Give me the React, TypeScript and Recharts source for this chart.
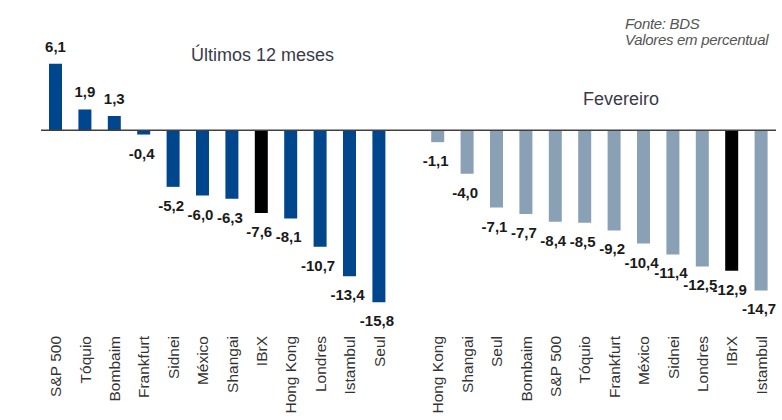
import React from 'react';
import { BarChart, Bar, XAxis, YAxis, ReferenceLine, Cell, LabelList } from 'recharts';

// Últimos 12 meses
const cidades12m = ['S&P 500', 'Tóquio', 'Bombaim', 'Frankfurt', 'Sidnei', 'México', 'Shangai', 'IBrX', 'Hong Kong', 'Londres', 'Istambul', 'Seul'];
const valores12m = [6.1, 1.9, 1.3, -0.4, -5.2, -6.0, -6.3, -7.6, -8.1, -10.7, -13.4, -15.8];

// Fevereiro
const cidadesFev = ['Hong Kong', 'Shangai', 'Seul', 'Bombaim', 'S&P 500', 'Tóquio', 'Frankfurt', 'México', 'Sidnei', 'Londres', 'IBrX', 'Istambul'];
const valoresFev = [-1.1, -4.0, -7.1, -7.7, -8.4, -8.5, -9.2, -10.4, -11.4, -12.5, -12.9, -14.7];

const AZUL = '#00468c';
const CINZA = '#8aa0b5';
const PRETO = '#000000';
const FONTE = '"Liberation Sans", Arial, sans-serif';

// one empty slot between the two groups
const dados = [
  ...cidades12m.map((nome, i) => ({ id: `a${i}`, nome, valor: valores12m[i], grupo: 'a' })),
  { id: 'sep', nome: '', valor: null as number | null, grupo: '' },
  ...cidadesFev.map((nome, i) => ({ id: `b${i}`, nome, valor: valoresFev[i], grupo: 'b' })),
];

const nomePorId: Record<string, string> = Object.fromEntries(dados.map((d) => [d.id, d.nome]));

const corDa = (d: { nome: string; grupo: string }) => {
  if (d.nome === 'IBrX') return PRETO;
  return d.grupo === 'a' ? AZUL : CINZA;
};

const Rotulo = ({ x, y, payload }: any) => (
  <g transform={`translate(${x},${y + 26})`}>
    <text transform="rotate(-90)" textAnchor="end" dy="0.35em" fontSize={15.5} fill="#333" fontFamily={FONTE}>
      {nomePorId[payload.value]}
    </text>
  </g>
);

const Valor = (props: any) => {
  const { x, y, width, height, value } = props;
  if (value == null) return null;
  const topo = Math.min(y, y + height);
  const base = Math.max(y, y + height);
  const cx = x + width / 2;
  const txt = Number(value).toFixed(1).replace('.', ',');
  const estilo = { fontSize: 15, fontWeight: 700, fill: '#1a1a1a', fontFamily: FONTE };
  if (value >= 0) {
    return <text x={cx} y={topo - 12} textAnchor="middle" {...estilo}>{txt}</text>;
  }
  return <text x={cx - 2} y={base + 24} textAnchor="middle" {...estilo}>{txt}</text>;
};

export default function App() {
  return (
    <div style={{ position: 'absolute', left: 0, top: 0, width: 782, height: 420, background: '#fff', fontFamily: FONTE }}>
      <BarChart width={782} height={420} data={dados} margin={{ top: 43, right: 6, left: 41, bottom: 10 }}>
        <XAxis dataKey="id" interval={0} axisLine={false} tickLine={false} tickSize={0} tickMargin={0} height={100} tick={<Rotulo />} padding={{ left: 0, right: 0 }} />
        <YAxis hide domain={[-16.5, 8]} />
        <Bar dataKey="valor" barSize={13} isAnimationActive={false}>
          {dados.map((d) => (
            <Cell key={d.id} fill={corDa(d)} />
          ))}
          <LabelList dataKey="valor" content={Valor} />
        </Bar>
        <ReferenceLine y={0} stroke="#404040" strokeWidth={1.5} />
      </BarChart>
      <div style={{ position: 'absolute', left: 191, top: 46, fontSize: 18, lineHeight: '18px', color: '#3a3a48', whiteSpace: 'nowrap' }}>
        Últimos 12 meses
      </div>
      <div style={{ position: 'absolute', left: 583, top: 90, fontSize: 18, lineHeight: '18px', color: '#3a3a48', whiteSpace: 'nowrap' }}>
        Fevereiro
      </div>
      <div style={{ position: 'absolute', left: 625, top: 16, fontSize: 15, lineHeight: '16px', fontStyle: 'italic', color: '#555', whiteSpace: 'nowrap', letterSpacing: -0.3 }}>
        Fonte: BDS
        <br />
        Valores em percentual
      </div>
    </div>
  );
}
